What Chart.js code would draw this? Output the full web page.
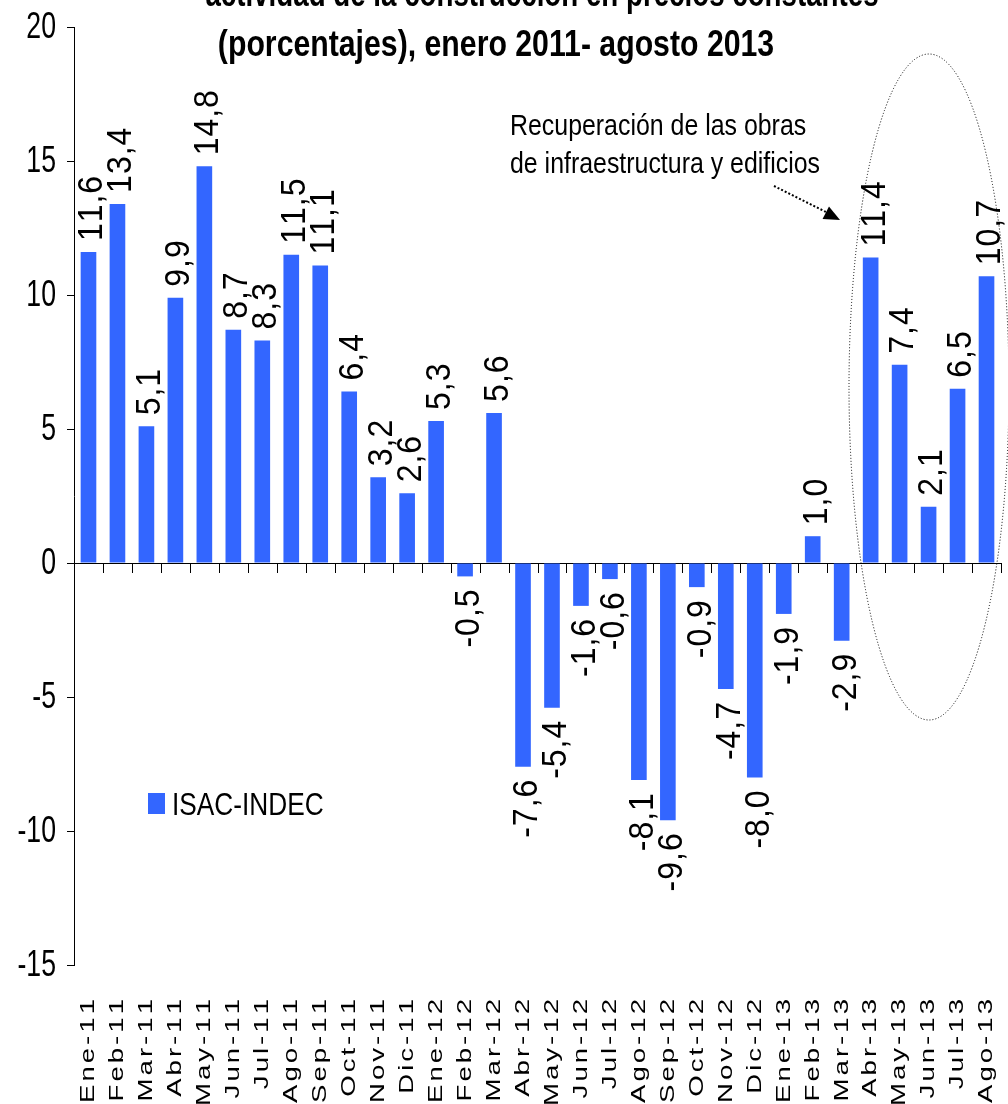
<!DOCTYPE html>
<html><head><meta charset="utf-8">
<script src="https://cdn.jsdelivr.net/npm/chart.js@4/dist/chart.umd.min.js"></script>
<style>html,body{margin:0;padding:0;background:#fff;}canvas{display:block;}</style>
</head><body>
<canvas id="c" width="1008" height="1104"></canvas>
<script>
const categories = ['Ene-11','Feb-11','Mar-11','Abr-11','May-11','Jun-11','Jul-11','Ago-11','Sep-11','Oct-11','Nov-11','Dic-11',
  'Ene-12','Feb-12','Mar-12','Abr-12','May-12','Jun-12','Jul-12','Ago-12','Sep-12','Oct-12','Nov-12','Dic-12',
  'Ene-13','Feb-13','Mar-13','Abr-13','May-13','Jun-13','Jul-13','Ago-13'];
const values = [11.6,13.4,5.1,9.9,14.8,8.7,8.3,11.5,11.1,6.4,3.2,2.6,
  5.3,-0.5,5.6,-7.6,-5.4,-1.6,-0.6,-8.1,-9.6,-0.9,-4.7,-8.0,
  -1.9,1.0,-2.9,11.4,7.4,2.1,6.5,10.7];
const seriesName = 'ISAC-INDEC';
const yTicks = [-15,-10,-5,0,5,10,15,20];
const titleLines = ['actividad de la construcción en precios constantes','(porcentajes), enero 2011- agosto 2013'];
const noteLines = ['Recuperación de las obras','de infraestructura y edificios'];

const BAR = '#3366FF';
const SANS = '"Liberation Sans", Arial, sans-serif';

function drawH(ctx, text, x, y, size, bold, align, sx, baseline) {
  ctx.save();
  ctx.translate(x, y);
  ctx.scale(sx, 1);
  ctx.font = (bold ? 'bold ' : '') + size + 'px ' + SANS;
  ctx.textAlign = align; ctx.textBaseline = baseline || 'alphabetic'; ctx.fillStyle = '#000';
  ctx.fillText(text, 0, 0);
  ctx.restore();
}
function drawRot(ctx, text, x, y, size, stretch, squeeze, spacing, anchor, dx) {
  ctx.save();
  ctx.translate(x, y);
  ctx.rotate(-Math.PI / 2);
  ctx.font = size + 'px ' + SANS;
  ctx.textBaseline = 'middle'; ctx.textAlign = 'left'; ctx.fillStyle = '#000';
  const chars = [...text];
  const ws = chars.map(ch => ctx.measureText(ch).width * stretch);
  const total = ws.reduce((a, b) => a + b, 0) + spacing * (chars.length - 1);
  let pos = anchor === 'start' ? 0 : -total;
  chars.forEach((ch, i) => {
    ctx.save(); ctx.translate(pos, dx); ctx.scale(stretch, squeeze); ctx.fillText(ch, 0, 0); ctx.restore();
    pos += ws[i] + spacing;
  });
  ctx.restore();
}

const decor = {
  id: 'decor',
  afterDraw(chart) {
    const ctx = chart.ctx;
    const xs = chart.scales.x, ys = chart.scales.y;
    const zeroY = ys.getPixelForValue(0);
    const n = categories.length;
    const step = (xs.right - xs.left) / n;
    // x tick marks at category boundaries
    ctx.save();
    ctx.strokeStyle = '#000'; ctx.lineWidth = 1;
    for (let i = 0; i <= n; i++) {
      const x = Math.round(xs.getPixelForValue(0) - step / 2 + i * step) + 0.5;
      ctx.beginPath(); ctx.moveTo(x, zeroY); ctx.lineTo(x, zeroY + 10); ctx.stroke();
    }
    ctx.restore();
    // y tick labels
    yTicks.forEach(v => {
      drawH(ctx, String(v), 56, ys.getPixelForValue(v) + 1, 36, false, 'right', 0.74, 'middle');
    });
    // data labels
    const meta = chart.getDatasetMeta(0);
    meta.data.forEach((el, i) => {
      const v = values[i];
      const lbl = v.toFixed(1).replace('.', ',');
      if (v >= 0) drawRot(ctx, lbl, el.x, el.y - 11, 32, 1, 1.12, 1, 'start', 4);
      else drawRot(ctx, lbl, el.x, el.y + 13, 32, 1, 1.12, 1, 'end', 4);
    });
    // x labels
    categories.forEach((c, i) => {
      drawRot(ctx, c, xs.getPixelForValue(i), 999, 24, 1.15, 0.88, 3, 'end', 0);
    });
    // title
    drawH(ctx, titleLines[0], 542, 6, 36, true, 'center', 0.77);
    drawH(ctx, titleLines[1], 496, 56, 36, true, 'center', 0.84);
    // note
    drawH(ctx, noteLines[0], 510, 135, 30, false, 'left', 0.83);
    drawH(ctx, noteLines[1], 510, 173, 30, false, 'left', 0.83);
    // arrow
    ctx.save();
    ctx.strokeStyle = '#000'; ctx.lineWidth = 2; ctx.setLineDash([2, 2]);
    ctx.beginPath(); ctx.moveTo(774, 186); ctx.lineTo(828, 213); ctx.stroke();
    ctx.setLineDash([]);
    ctx.fillStyle = '#000';
    const ang = Math.atan2(220 - 186, 840 - 774);
    ctx.translate(840, 220); ctx.rotate(ang);
    ctx.beginPath(); ctx.moveTo(0, 0); ctx.lineTo(-16, -7); ctx.lineTo(-16, 7); ctx.closePath(); ctx.fill();
    ctx.restore();
    // ellipse
    ctx.save();
    ctx.strokeStyle = '#000'; ctx.lineWidth = 1; ctx.setLineDash([1, 2]);
    ctx.beginPath(); ctx.ellipse(929, 387, 80, 333, 0, 0, Math.PI * 2); ctx.stroke();
    ctx.restore();
    // legend
    ctx.save();
    ctx.fillStyle = BAR; ctx.fillRect(148, 793, 17, 21);
    ctx.restore();
    drawH(ctx, seriesName, 172, 815, 32, false, 'left', 0.82);
  }
};

new Chart(document.getElementById('c'), {
  type: 'bar',
  data: {
    labels: categories,
    datasets: [{ label: seriesName, data: values, backgroundColor: BAR, borderWidth: 0,
      barPercentage: 0.54, categoryPercentage: 1 }]
  },
  options: {
    responsive: false, animation: false, devicePixelRatio: 1,
    layout: { padding: { top: 27, right: 7, left: 0, bottom: 0 } },
    plugins: { legend: { display: false }, title: { display: false }, tooltip: { enabled: false } },
    scales: {
      x: {
        grid: { display: false }, border: { display: false }, ticks: { display: false },
        afterFit(s) { s.height = 139; }
      },
      y: {
        min: -15, max: 20,
        afterBuildTicks(s) { s.ticks = yTicks.map(v => ({ value: v })); },
        afterFit(s) { s.width = 74; },
        border: { display: true, color: '#000', width: 1 },
        grid: {
          drawOnChartArea: true, drawTicks: true, tickLength: 7, tickColor: '#000',
          color: c => (c.tick && c.tick.value === 0) ? '#000' : 'rgba(0,0,0,0)'
        },
        ticks: { display: false }
      }
    }
  },
  plugins: [decor]
});
</script>
</body></html>
